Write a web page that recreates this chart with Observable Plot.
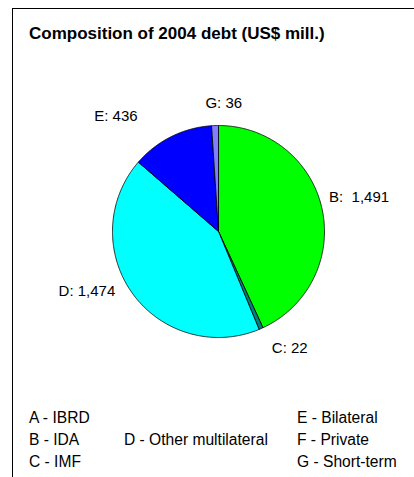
<!DOCTYPE html>
<html><head><meta charset="utf-8">
<script src="https://cdn.jsdelivr.net/npm/d3@7"></script>
<script src="https://cdn.jsdelivr.net/npm/@observablehq/plot@0.6"></script>
<style>
body{margin:0;background:#fff;font-family:"Liberation Sans",Arial,sans-serif;color:#000;}
#wrap{position:relative;width:414px;height:477px;overflow:hidden;}
#frame{position:absolute;left:12px;top:8px;width:500px;height:600px;border-left:1px solid #000;border-top:1px solid #000;box-sizing:border-box;}
#title{position:absolute;left:29px;top:24px;font-weight:bold;font-size:17px;line-height:20px;white-space:nowrap;}
#chart{position:absolute;left:0;top:90px;}
#legend{position:absolute;left:29px;top:407px;display:grid;grid-template-columns:95px 173px auto;grid-auto-rows:22px;font-size:15.6px;line-height:22px;white-space:nowrap;}
</style></head><body>
<div id="wrap"><div id="frame"></div><div id="title"></div><div id="chart"></div><div id="legend"></div></div>
<script>
const titleText = "Composition of 2004 debt (US$ mill.)";
const codes = ["A","B","C","D","E","F","G"];
const names = ["IBRD","IDA","IMF","Other multilateral","Bilateral","Private","Short-term"];
const values = [0,1491,22,1474,436,0,36];
const colors = ["#9999ff","#00ff00","#008080","#00ffff","#0000ff","#ff00ff","#8080ff"];
const labelText = ["A: 0","B:  1,491","C: 22","D: 1,474","E: 436","F: 0","G: 36"];

// label nudges in pixels (layout only)
const labelNudge = {B:[-1,-3], C:[13,-16], D:[-14,-25], E:[-38,15], G:[10,17]};

const data = codes.map((c,i)=>({key:c, value:values[i], label:labelText[i]}));
const arcs = d3.pie().sort(null).value(d=>d.value)(data).filter(a=>a.data.value>0);

const pts = [];
for (const a of arcs) {
  const n = Math.max(2, Math.ceil((a.endAngle-a.startAngle)/(Math.PI/360)));
  pts.push({key:a.data.key, x:0, y:0});
  for (let k=0;k<=n;k++){
    const t = a.startAngle + (a.endAngle-a.startAngle)*k/n;
    pts.push({key:a.data.key, x:Math.sin(t), y:Math.cos(t)});
  }
  pts.push({key:a.data.key, x:0, y:0});
}
const R = 106; // pixels per unit
const labels = arcs.map(a=>{
  const m = (a.startAngle+a.endAngle)/2, d = 1.368;
  const nu = labelNudge[a.data.key] || [0,0];
  return {text:a.data.label, x:d*Math.sin(m)+nu[0]/R, y:d*Math.cos(m)-nu[1]/R};
});

const chart = Plot.plot({
  width:414, height:290,
  marginLeft:112, marginRight:90, marginTop:35, marginBottom:43,
  x:{domain:[-1,1], axis:null},
  y:{domain:[-1,1], axis:null},
  color:{domain:codes, range:colors},
  style:{fontFamily:'"Liberation Sans",Arial,sans-serif', background:"transparent", overflow:"visible"},
  marks:[
    Plot.line(pts,{x:"x", y:"y", z:"key", fill:"key", stroke:"#000", strokeWidth:0.8, curve:"linear"}),
    Plot.text(labels,{x:"x", y:"y", text:"text", fontSize:15, fill:"#000", textAnchor:"middle"})
  ]
});
chart.style.overflow = "visible";
document.getElementById("chart").appendChild(chart);
document.getElementById("title").textContent = titleText;

const leg = document.getElementById("legend");
codes.forEach((c,i)=>{
  const el = document.createElement("div");
  el.textContent = c + " - " + names[i];
  let col, row;
  if (i<3){col=1;row=i+1;} else if (i===3){col=2;row=2;} else {col=3;row=i-3;}
  el.style.gridColumn = col; el.style.gridRow = row;
  leg.appendChild(el);
});
</script>
</body></html>
